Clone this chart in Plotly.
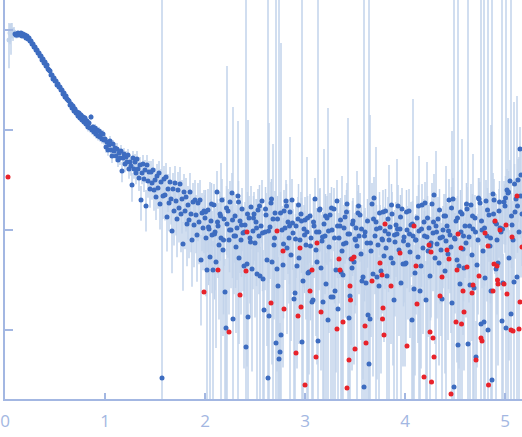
import plotly.graph_objects as go

# ---------------- data ----------------
# error size per point: upper extent of the error bar, in hundredths of a decade;
# bars are symmetric in intensity (so they reach further downward on the log axis)

# low-q points (shown light)
q_low = [0.04, 0.05, 0.06, 0.07, 0.08, 0.09]
logI_low = [-0.10, -0.03, -0.06, 0.00, -0.04, -0.02]
err_low_cdex = [17, 9, 13, 7, 6, 5]

# main points, q 0.10 - 0.99
q_b = [0.10, 0.11, 0.12, 0.13, 0.14, 0.15, 0.16, 0.17, 0.18, 0.19,
       0.20, 0.21, 0.22, 0.23, 0.24, 0.25, 0.26, 0.27, 0.28, 0.29,
       0.30, 0.31, 0.32, 0.33, 0.34, 0.35, 0.36, 0.37, 0.38, 0.39,
       0.40, 0.41, 0.42, 0.43, 0.44, 0.45, 0.46, 0.47, 0.48, 0.49,
       0.50, 0.51, 0.52, 0.53, 0.54, 0.55, 0.56, 0.57, 0.58, 0.59,
       0.60, 0.61, 0.62, 0.63, 0.64, 0.65, 0.66, 0.67, 0.68, 0.69,
       0.70, 0.71, 0.72, 0.73, 0.74, 0.75, 0.76, 0.77, 0.78, 0.79,
       0.80, 0.81, 0.82, 0.83, 0.84, 0.85, 0.86, 0.87, 0.88, 0.89,
       0.90, 0.91, 0.92, 0.93, 0.94, 0.95, 0.96, 0.97, 0.98, 0.99]
logI_b = [-0.04, -0.05, -0.05, -0.03, -0.05, -0.04, -0.03, -0.06, -0.04, -0.06,
          -0.05, -0.08, -0.06, -0.09, -0.08, -0.11, -0.11, -0.14, -0.14, -0.17,
          -0.17, -0.20, -0.20, -0.23, -0.23, -0.26, -0.26, -0.30, -0.29, -0.33,
          -0.32, -0.36, -0.35, -0.39, -0.40, -0.41, -0.45, -0.45, -0.49, -0.48,
          -0.51, -0.51, -0.55, -0.54, -0.57, -0.57, -0.60, -0.60, -0.64, -0.63,
          -0.67, -0.66, -0.69, -0.70, -0.71, -0.75, -0.74, -0.78, -0.76, -0.81,
          -0.79, -0.83, -0.82, -0.86, -0.83, -0.88, -0.85, -0.90, -0.87, -0.92,
          -0.88, -0.94, -0.91, -0.97, -0.93, -0.98, -0.87, -1.00, -0.97, -1.02,
          -0.98, -1.04, -1.00, -1.06, -1.01, -1.07, -1.03, -1.09, -1.04, -1.10]
err_b_cdex = [3, 3, 3, 2, 2, 2, 2, 2, 2, 2,
              2, 2, 2, 2, 2, 2, 2, 2, 2, 2,
              2, 2, 2, 2, 2, 2, 2, 2, 2, 2,
              2, 2, 2, 2, 2, 2, 2, 2, 2, 2,
              2, 2, 2, 2, 2, 2, 2, 2, 2, 2,
              3, 2, 3, 2, 3, 2, 3, 2, 3, 2,
              3, 3, 3, 3, 3, 3, 3, 3, 3, 3,
              3, 4, 3, 4, 3, 4, 3, 4, 3, 4,
              4, 4, 4, 4, 4, 4, 4, 4, 4, 4]

# main points, q 1.00 - 1.99
q_c = [1.00, 1.01, 1.02, 1.03, 1.04, 1.05, 1.06, 1.07, 1.08, 1.09,
       1.10, 1.11, 1.12, 1.13, 1.14, 1.15, 1.16, 1.17, 1.18, 1.19,
       1.20, 1.21, 1.22, 1.23, 1.24, 1.25, 1.26, 1.27, 1.28, 1.29,
       1.30, 1.31, 1.32, 1.33, 1.34, 1.35, 1.36, 1.37, 1.38, 1.39,
       1.40, 1.41, 1.42, 1.43, 1.44, 1.45, 1.46, 1.47, 1.48, 1.49,
       1.50, 1.51, 1.52, 1.53, 1.54, 1.55, 1.56, 1.57, 1.58, 1.59,
       1.60, 1.61, 1.62, 1.63, 1.64, 1.65, 1.66, 1.67, 1.68, 1.69,
       1.70, 1.71, 1.72, 1.73, 1.74, 1.75, 1.76, 1.77, 1.78, 1.79,
       1.80, 1.81, 1.82, 1.83, 1.84, 1.85, 1.86, 1.87, 1.88, 1.89,
       1.90, 1.91, 1.92, 1.93, 1.94, 1.95, 1.96, 1.97, 1.98, 1.99]
logI_c = [-1.09, -1.17, -1.12, -1.20, -1.15, -1.11, -1.20, -1.26, -1.14, -1.21,
          -1.18, -1.26, -1.19, -1.30, -1.23, -1.28, -1.21, -1.41, -1.28, -1.24,
          -1.34, -1.27, -1.32, -1.25, -1.39, -1.32, -1.36, -1.55, -1.28, -1.39,
          -1.32, -1.43, -1.29, -1.39, -1.48, -1.35, -1.70, -1.43, -1.34, -1.49,
          -1.40, -1.76, -1.35, -1.51, -1.42, -1.59, -1.42, -1.53, -1.40, -1.60,
          -1.50, -1.67, -1.46, -1.58, -1.43, -1.74, -1.52, -3.48, -1.66, -1.49,
          -1.65, -1.47, -1.87, -1.59, -1.73, -1.52, -1.69, -2.01, -1.59, -1.81,
          -1.53, -1.71, -1.89, -1.60, -1.78, -1.54, -1.84, -1.69, -2.14, -1.62,
          -1.81, -1.67, -1.94, -1.75, -1.90, -1.62, -1.84, -2.10, -1.72, -1.95,
          -1.70, -1.85, -2.05, -1.73, -1.92, -1.70, -2.30, -1.83, -1.98, -1.81]
err_c_cdex = [4, 5, 4, 5, 4, 5, 4, 6, 4, 5,
              5, 5, 6, 6, 5, 6, 6, 9, 6, 6,
              7, 6, 7, 6, 8, 7, 8, 12, 7, 8,
              8, 9, 8, 9, 10, 8, 14, 9, 9, 10,
              10, 16, 10, 12, 11, 13, 11, 12, 11, 14,
              12, 15, 12, 14, 12, 16, 13, 400, 15, 13,
              16, 14, 19, 15, 17, 15, 16, 21, 16, 19,
              17, 19, 20, 18, 19, 17, 20, 19, 22, 18,
              20, 19, 21, 19, 20, 19, 20, 22, 19, 21,
              20, 20, 22, 20, 21, 20, 25, 20, 21, 21]

# main points, q 2.00 - 5.17
q_d = [2.00, 2.01, 2.02, 2.03, 2.04, 2.05, 2.06, 2.07, 2.08, 2.09,
       2.10, 2.11, 2.12, 2.13, 2.14, 2.15, 2.16, 2.17, 2.18, 2.19,
       2.20, 2.21, 2.22, 2.23, 2.24, 2.25, 2.26, 2.27, 2.28, 2.29,
       2.30, 2.31, 2.32, 2.33, 2.34, 2.35, 2.36, 2.37, 2.38, 2.39,
       2.40, 2.41, 2.42, 2.43, 2.44, 2.45, 2.46, 2.47, 2.48, 2.49,
       2.50, 2.51, 2.52, 2.53, 2.54, 2.55, 2.56, 2.57, 2.58, 2.59,
       2.60, 2.61, 2.62, 2.63, 2.64, 2.65, 2.66, 2.67, 2.68, 2.69,
       2.70, 2.71, 2.72, 2.73, 2.74, 2.75, 2.76, 2.77, 2.78, 2.79,
       2.80, 2.81, 2.82, 2.83, 2.84, 2.85, 2.86, 2.87, 2.88, 2.89,
       2.90, 2.91, 2.92, 2.93, 2.94, 2.95, 2.96, 2.97, 2.98, 2.99,
       3.00, 3.01, 3.02, 3.03, 3.04, 3.05, 3.06, 3.07, 3.08, 3.09,
       3.10, 3.11, 3.12, 3.13, 3.14, 3.15, 3.16, 3.17, 3.18, 3.19,
       3.20, 3.21, 3.22, 3.23, 3.24, 3.25, 3.26, 3.27, 3.28, 3.29,
       3.30, 3.31, 3.32, 3.33, 3.34, 3.35, 3.36, 3.37, 3.38, 3.39,
       3.40, 3.41, 3.42, 3.43, 3.44, 3.45, 3.46, 3.47, 3.48, 3.49,
       3.50, 3.51, 3.52, 3.53, 3.54, 3.55, 3.56, 3.57, 3.58, 3.59,
       3.60, 3.61, 3.62, 3.63, 3.64, 3.65, 3.66, 3.67, 3.68, 3.69,
       3.70, 3.71, 3.72, 3.73, 3.74, 3.75, 3.76, 3.77, 3.78, 3.79,
       3.80, 3.81, 3.82, 3.83, 3.84, 3.85, 3.86, 3.87, 3.88, 3.89,
       3.90, 3.91, 3.92, 3.93, 3.94, 3.95, 3.96, 3.97, 3.98, 3.99,
       4.00, 4.01, 4.02, 4.03, 4.04, 4.05, 4.06, 4.07, 4.08, 4.09,
       4.10, 4.11, 4.12, 4.13, 4.14, 4.15, 4.16, 4.17, 4.18, 4.19,
       4.20, 4.21, 4.22, 4.23, 4.24, 4.25, 4.26, 4.27, 4.28, 4.29,
       4.30, 4.31, 4.32, 4.33, 4.34, 4.35, 4.36, 4.37, 4.38, 4.39,
       4.40, 4.41, 4.42, 4.43, 4.44, 4.45, 4.46, 4.47, 4.48, 4.49,
       4.50, 4.51, 4.52, 4.53, 4.54, 4.55, 4.56, 4.57, 4.58, 4.59,
       4.60, 4.61, 4.62, 4.63, 4.64, 4.65, 4.66, 4.67, 4.68, 4.69,
       4.70, 4.71, 4.72, 4.73, 4.74, 4.75, 4.76, 4.77, 4.78, 4.79,
       4.80, 4.81, 4.82, 4.83, 4.84, 4.85, 4.86, 4.87, 4.88, 4.89,
       4.90, 4.91, 4.92, 4.93, 4.94, 4.95, 4.96, 4.97, 4.98, 4.99,
       5.00, 5.01, 5.02, 5.03, 5.04, 5.05, 5.06, 5.07, 5.08, 5.09,
       5.10, 5.11, 5.12, 5.13, 5.14, 5.15, 5.16, 5.17]
logI_d = [-1.88, -2.08, -2.40, -1.80, -1.99, -2.27, -1.91, -2.05, -2.40, -1.75,
          -2.02, -2.32, -1.62, -1.96, -2.15, -1.84, -2.08, -1.70, -2.20, -1.89,
          -2.62, -2.98, -1.94, -1.81, -2.10, -1.72, -2.00, -1.63, -2.89, -2.06,
          -1.86, -2.17, -1.98, -1.66, -2.28, -1.91, -2.10, -1.79, -2.03, -2.36,
          -1.95, -3.17, -2.34, -2.87, -1.88, -2.08, -1.77, -2.39, -2.01, -1.84,
          -2.13, -1.92, -2.44, -1.80, -2.06, -2.46, -1.96, -1.71, -2.49, -2.80,
          -2.02, -1.85, -2.30, -3.48, -2.86, -1.97, -1.73, -2.32, -1.89, -2.15,
          -1.83, -3.13, -2.39, -2.56, -3.29, -3.22, -3.05, -2.00, -2.35, -1.81,
          -1.98, -1.71, -2.18, -1.92, -2.08, -1.82, -2.25, -1.70, -2.03, -2.69,
          -2.63, -1.96, -2.36, -1.89, -2.28, -2.10, -1.84, -3.12, -2.51, -1.99,
          -1.90, -2.15, -2.02, -2.43, -2.42, -1.86, -2.08, -2.72, -2.70, -1.96,
          -1.69, -2.20, -2.32, -3.11, -2.02, -1.79, -2.38, -2.11, -2.72, -1.94,
          -2.06, -2.54, -1.88, -2.90, -2.17, -1.85, -2.67, -2.00, -2.67, -1.79,
          -2.61, -2.40, -1.71, -2.79, -2.08, -1.96, -2.42, -2.21, -2.45, -1.98,
          -1.87, -2.13, -1.74, -2.04, -2.88, -2.66, -2.29, -2.38, -1.91, -2.32,
          -2.09, -1.98, -2.16, -1.83, -2.06, -1.85, -2.24, -2.51, -2.47, -3.57,
          -2.02, -2.53, -2.13, -2.85, -3.34, -2.89, -2.21, -1.74, -2.44, -1.68,
          -2.06, -1.92, -2.47, -2.15, -2.56, -1.98, -2.41, -2.09, -1.82, -2.26,
          -2.01, -2.18, -2.46, -1.89, -2.10, -1.97, -2.28, -1.84, -2.33, -2.70,
          -2.12, -1.95, -2.04, -1.76, -2.20, -1.99, -2.53, -1.79, -2.34, -2.07,
          -2.34, -2.33, -2.00, -2.15, -1.81, -2.22, -1.95, -2.90, -2.06, -2.59,
          -2.43, -2.10, -1.88, -2.27, -2.01, -2.61, -2.36, -1.75, -2.18, -1.92,
          -1.73, -2.70, -2.07, -2.21, -1.98, -2.46, -2.13, -1.74, -2.03, -1.65,
          -2.28, -1.96, -2.14, -1.89, -2.33, -2.08, -2.20, -2.69, -2.00, -1.86,
          -2.41, -2.11, -1.96, -2.24, -1.70, -2.05, -2.17, -2.73, -1.69, -3.57,
          -2.09, -1.91, -2.30, -3.15, -2.36, -2.54, -2.02, -1.84, -2.19, -2.38,
          -1.96, -2.13, -1.79, -3.14, -2.07, -2.55, -1.75, -2.25, -1.99, -2.58,
          -1.88, -3.27, -2.35, -2.10, -1.69, -1.73, -2.94, -2.00, -2.21, -2.92,
          -2.48, -1.71, -2.06, -3.00, -1.85, -2.16, -2.61, -3.50, -1.64, -1.70,
          -1.92, -2.39, -2.10, -2.33, -1.81, -1.98, -2.02, -2.91, -2.53, -1.72,
          -1.76, -2.98, -1.60, -1.63, -2.28, -1.51, -2.84, -1.95, -2.10, -2.52,
          -1.82, -1.69, -2.47, -1.50, -2.02, -1.19, -1.45, -1.84]
err_d_cdex = [23, 24, 29, 21, 23, 75, 22, 24, 29, 21,
              24, 27, 21, 23, 26, 22, 75, 21, 27, 22,
              33, 36, 158, 22, 26, 21, 24, 20, 212, 24,
              22, 27, 23, 75, 27, 23, 26, 21, 24, 28,
              23, 400, 28, 197, 22, 25, 21, 28, 24, 22,
              26, 23, 75, 21, 24, 29, 23, 21, 29, 34,
              24, 22, 27, 400, 193, 23, 21, 28, 75, 26,
              22, 400, 28, 29, 400, 29, 292, 24, 28, 21,
              23, 21, 27, 23, 25, 75, 27, 21, 24, 31,
              29, 23, 28, 22, 27, 26, 22, 400, 31, 24,
              23, 26, 75, 29, 28, 22, 25, 37, 34, 23,
              21, 27, 28, 400, 24, 21, 28, 26, 31, 75,
              24, 31, 22, 212, 27, 22, 38, 24, 29, 21,
              33, 28, 21, 35, 25, 23, 29, 75, 29, 23,
              22, 26, 21, 116, 36, 33, 27, 28, 23, 28,
              26, 23, 75, 22, 24, 22, 27, 29, 28, 400,
              24, 29, 26, 34, 400, 204, 27, 21, 28, 21,
              24, 75, 28, 26, 29, 23, 28, 26, 22, 27,
              24, 27, 29, 22, 75, 23, 27, 22, 28, 40,
              26, 23, 75, 21, 27, 24, 31, 21, 28, 25,
              28, 27, 24, 26, 22, 27, 23, 35, 137, 29,
              28, 26, 22, 27, 75, 32, 28, 21, 27, 23,
              21, 39, 75, 27, 23, 29, 26, 21, 24, 21,
              27, 75, 26, 22, 28, 25, 27, 31, 24, 22,
              28, 75, 23, 27, 21, 24, 27, 172, 21, 400,
              26, 23, 28, 400, 28, 29, 24, 75, 27, 28,
              23, 26, 22, 400, 25, 32, 21, 27, 75, 29,
              23, 36, 28, 26, 21, 21, 400, 24, 27, 400,
              29, 21, 25, 400, 22, 27, 166, 400, 21, 21,
              23, 75, 26, 28, 22, 24, 24, 400, 29, 21,
              22, 400, 21, 75, 28, 21, 400, 24, 26, 180,
              22, 21, 181, 21, 75, 22, 28, 23]

# extra main points between the grid above, q 2.005 - 5.155
q_e = [2.005, 2.035, 2.065, 2.095, 2.125, 2.155, 2.185, 2.215, 2.245, 2.275,
       2.305, 2.335, 2.365, 2.395, 2.425, 2.455, 2.485, 2.515, 2.545, 2.575,
       2.605, 2.635, 2.665, 2.695, 2.725, 2.755, 2.785, 2.815, 2.845, 2.875,
       2.905, 2.935, 2.965, 2.995,
       3.025, 3.055, 3.085, 3.115, 3.145, 3.175, 3.205, 3.235, 3.265, 3.295,
       3.325, 3.355, 3.385, 3.415, 3.445, 3.475, 3.505, 3.535, 3.565, 3.595,
       3.625, 3.655, 3.685, 3.715, 3.745, 3.775, 3.805, 3.835, 3.865, 3.895,
       3.925, 3.955, 3.985,
       4.015, 4.045, 4.075, 4.105, 4.135, 4.165, 4.195, 4.225, 4.255, 4.285,
       4.315, 4.345, 4.375, 4.405, 4.435, 4.465, 4.495, 4.525, 4.555, 4.585,
       4.615, 4.645, 4.675, 4.705, 4.735, 4.765, 4.795, 4.825, 4.855, 4.885,
       4.915, 4.945, 4.975,
       5.005, 5.035, 5.065, 5.095, 5.125, 5.155]
logI_e = [-1.82, -1.97, -1.74, -2.04, -1.92, -1.86, -2.10, -1.78, -2.00, -1.90,
          -2.06, -1.72, -1.95, -2.02, -1.84, -2.12, -1.88, -1.98, -1.76, -2.03,
          -1.79, -2.01, -1.69, -2.08, -1.89, -1.83, -2.14, -1.76, -1.96, -1.93,
          -2.09, -1.75, -1.91, -2.05,
          -1.88, -2.16, -1.92, -2.02, -1.80, -2.07, -1.86, -2.01, -1.78, -2.08,
          -1.96, -1.90, -2.14, -1.82, -2.04, -1.94, -2.10, -1.76, -1.99, -2.06,
          -1.91, -2.13, -1.89, -1.99, -1.83, -2.10, -1.81, -2.04, -1.75, -2.05,
          -1.99, -1.87, -2.11,
          -1.82, -2.04, -1.94, -2.10, -1.76, -1.99, -2.06, -1.88, -2.16, -1.92,
          -2.02, -1.80, -2.07, -1.86, -2.01, -1.78, -2.08, -1.88, -1.82, -2.06,
          -1.74, -1.96, -1.86, -2.02, -1.68, -1.91, -1.98, -1.80, -2.08, -1.84,
          -1.94, -1.72, -1.99,
          -1.68, -1.62, -1.86, -1.54, -1.76, -1.66]
err_e_cdex = [22, 24, 21, 25, 23, 20, 26, 22, 21, 24,
              23, 21, 23, 25, 22, 26, 22, 24, 21, 24,
              22, 23, 20, 25, 23, 21, 26, 22, 24, 22,
              25, 21, 23, 24,
              22, 26, 23, 24, 21, 25, 22, 24, 21, 25,
              23, 22, 26, 22, 24, 23, 25, 21, 24, 25,
              22, 26, 23, 24, 21, 25, 22, 24, 21, 25,
              23, 22, 25,
              22, 24, 23, 25, 21, 24, 25, 22, 26, 23,
              24, 21, 25, 22, 24, 21, 25, 22, 22, 25,
              21, 23, 22, 24, 20, 23, 24, 22, 25, 22,
              23, 21, 24,
              22, 21, 23, 20, 22, 21]

# outlier points (red)
q_red = [0.03, 1.99, 2.13, 2.24, 2.35, 2.41, 2.42, 2.66, 2.72, 2.78,
         2.79, 2.91, 2.93, 2.95, 2.96, 3.00, 3.05, 3.07, 3.11, 3.12,
         3.16, 3.32, 3.34, 3.35, 3.38, 3.42, 3.44, 3.45, 3.455, 3.47,
         3.49, 3.50, 3.60, 3.61, 3.67, 3.75, 3.77, 3.775, 3.78, 3.79,
         3.80, 3.86, 3.95, 4.02, 4.09, 4.11, 4.12, 4.19, 4.24, 4.25,
         4.26, 4.265, 4.28, 4.29, 4.35, 4.37, 4.42, 4.44, 4.46, 4.51,
         4.52, 4.53, 4.56, 4.565, 4.58, 4.59, 4.62, 4.67, 4.68, 4.71,
         4.74, 4.76, 4.77, 4.80, 4.83, 4.835, 4.88, 4.89, 4.90, 4.92,
         4.925, 4.93, 4.95, 4.99, 5.01, 5.02, 5.06, 5.07, 5.08, 5.12,
         5.14, 5.15, 5.17]
logI_red = [-1.47, -2.62, -2.40, -3.02, -2.65, -2.41, -2.02, -2.73, -2.01, -2.21,
            -2.79, -3.23, -2.86, -2.18, -2.77, -3.55, -2.61, -2.40, -3.27, -2.13,
            -2.82, -2.99, -2.29, -2.40, -2.92, -3.58, -3.30, -2.56, -2.70, -2.29,
            -2.27, -3.19, -2.96, -3.13, -2.51, -2.33, -2.45, -2.89, -2.78, -3.05,
            -1.94, -2.56, -2.23, -3.16, -1.96, -2.36, -2.74, -3.47, -2.15, -3.02,
            -2.22, -3.52, -3.08, -3.27, -2.66, -2.47, -2.20, -2.29, -3.64, -2.92,
            -2.40, -2.04, -2.18, -2.94, -2.61, -2.82, -2.37, -2.63, -2.55, -3.30,
            -2.46, -3.08, -3.11, -2.03, -2.16, -3.55, -2.61, -2.34, -1.91, -2.36,
            -2.50, -2.54, -2.00, -2.54, -1.95, -2.64, -3.00, -2.07, -3.01, -1.66,
            -2.99, -2.72, -2.17]

x_tick_vals = [0, 1, 2, 3, 4, 5]
x_tick_text = ["0", "1", "2", "3", "4", "5"]
y_tick_vals = [1, 0.1, 0.01, 0.001]

# ---------------- build ----------------
q_main = q_b + q_c + q_d + q_e
logI_main = logI_b + logI_c + logI_d + logI_e
err_main = err_b_cdex + err_c_cdex + err_d_cdex + err_e_cdex
assert len(q_main) == len(logI_main) == len(err_main), (len(q_b), len(logI_b), len(err_b_cdex),
                                                         len(q_c), len(logI_c), len(err_c_cdex),
                                                         len(q_d), len(logI_d), len(err_d_cdex),
                                                         len(q_e), len(logI_e), len(err_e_cdex))
assert len(q_red) == len(logI_red), (len(q_red), len(logI_red))


def to_intensity(logs):
    return [10 ** v for v in logs]


def to_sigma(logs, errs):
    # absolute intensity error whose upper bar end lies errs/100 decades above the point
    return [10 ** v * (10 ** (e / 100) - 1) for v, e in zip(logs, errs)]


AX = "#a3b7e2"
ERR = "#c2d3eb"

fig = go.Figure()
fig.add_trace(go.Scatter(
    x=q_low, y=to_intensity(logI_low), mode="markers",
    marker=dict(color=ERR, size=5),
    error_y=dict(type="data", array=to_sigma(logI_low, err_low_cdex),
                 visible=True, color=ERR, thickness=1.5, width=0),
    showlegend=False, hoverinfo="skip"))
fig.add_trace(go.Scatter(
    x=q_main, y=to_intensity(logI_main), mode="markers",
    marker=dict(color="#3d6cc0", size=5),
    error_y=dict(type="data", array=to_sigma(logI_main, err_main),
                 visible=True, color=ERR, thickness=1.5, width=0),
    showlegend=False))
fig.add_trace(go.Scatter(
    x=q_red, y=to_intensity(logI_red), mode="markers",
    marker=dict(color="#e8232b", size=5),
    showlegend=False))

fig.update_layout(
    width=522, height=437,
    margin=dict(l=5, r=0, t=0, b=38),
    paper_bgcolor="white", plot_bgcolor="white",
    font=dict(family="Open Sans", color=AX),
    xaxis=dict(range=[0, 5.17], tickvals=x_tick_vals, ticktext=x_tick_text,
               ticks="inside", ticklen=6, tickwidth=1.5, tickcolor=AX,
               showline=True, linecolor=AX, linewidth=1.5,
               showgrid=False, zeroline=False,
               tickfont=dict(size=17, color=AX, family="Open Sans"),
               ticklabelstandoff=6),
    yaxis=dict(type="log", range=[-3.69, 0.30], tickvals=y_tick_vals,
               ticks="inside", ticklen=8, tickwidth=1.5, tickcolor=AX,
               showticklabels=False,
               showline=True, linecolor=AX, linewidth=1.5,
               showgrid=False, zeroline=False),
)

fig.write_html("out.html")
